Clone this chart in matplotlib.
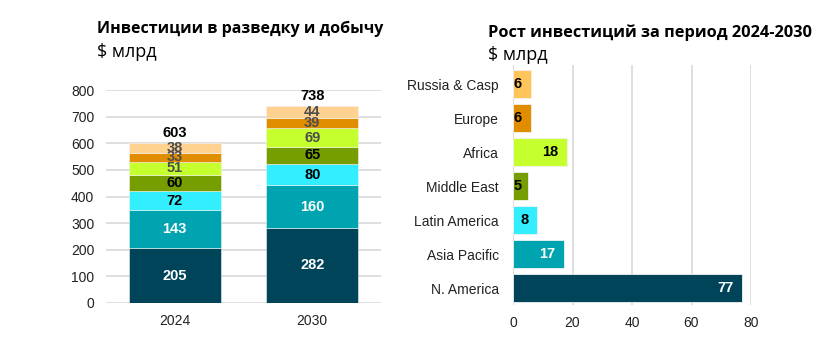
import matplotlib
matplotlib.use("Agg")
import matplotlib.pyplot as plt
import numpy as np

plt.rcParams['font.family'] = ['Liberation Sans', 'DejaVu Sans']

years = ['2024', '2030']
regions = ['N. America', 'Asia Pacific', 'Latin America', 'Middle East', 'Africa', 'Europe', 'Russia & Casp']
vals_2024 = [205, 143, 72, 60, 51, 33, 38]
vals_2030 = [282, 160, 80, 65, 69, 39, 44]
totals = [603, 738]
growth = [77, 17, 8, 5, 18, 6, 6]

colors_left = ['#00445A', '#00A3B0', '#33EEFF', '#779E00', '#C6FF2E', '#E08E00', '#FFD28F']
colors_right = ['#00445A', '#00A3B0', '#33EEFF', '#779E00', '#C6FF2E', '#E08E00', '#FFC55A']
label_colors_left = ['white', 'white', 'black', 'black', '#4D4D4D', '#4D4D4D', '#4D4D4D']
label_colors_right = ['white', 'white', 'black', 'black', 'black', 'black', 'black']

fig = plt.figure(figsize=(8.34, 3.46), dpi=100)

# Left stacked chart
ax1 = fig.add_axes([106/834, 1-303/346, 275/834, 213/346])
x = np.arange(len(years))
bottoms = np.zeros(len(years))
data = np.array([vals_2024, vals_2030]).T
for i, reg in enumerate(regions):
    ax1.bar(x, data[i], 0.67, bottom=bottoms, color=colors_left[i],
            edgecolor='#F2F2F2', linewidth=0.4, zorder=3)
    for j in range(len(years)):
        ax1.text(x[j], bottoms[j] + data[i][j]/2, str(data[i][j]), ha='center', va='center',
                 fontsize=10.5, fontweight='bold', color=label_colors_left[i], zorder=4)
    bottoms += data[i]
for j in range(len(years)):
    ax1.text(x[j], bottoms[j] + 12, str(totals[j]), ha='center', va='bottom',
             fontsize=10.5, fontweight='bold', color='black', clip_on=False)
ax1.set_ylim(0, 800)
ax1.set_xlim(-0.5, 1.5)
ax1.set_yticks(range(0, 801, 100))
ax1.set_xticks(x)
ax1.set_xticklabels(years)
ax1.tick_params(length=0, labelsize=10, colors='#222222')
ax1.tick_params(axis='y', pad=8.5)
ax1.tick_params(axis='x', pad=8)
ax1.grid(axis='y', color='#D9D9D9', linewidth=1.2, zorder=0)
for s in ax1.spines.values():
    s.set_visible(False)

fig.text(97/834, 1-33/346, 'Инвестиции в разведку и добычу', fontsize=11.5, fontweight='bold',
         family=['Open Sans', 'DejaVu Sans'], va='baseline')
fig.text(97/834, 1-57/346, '$ млрд', fontsize=13, family=['Open Sans', 'DejaVu Sans'], va='baseline')

# Right horizontal chart
ax2 = fig.add_axes([513/834, 1-305/346, 238/834, 240/346])
y = np.arange(len(regions))
ax2.barh(y, growth, 0.83, color=colors_right, edgecolor='#F2F2F2', linewidth=0.6, zorder=3)
for i, v in enumerate(growth):
    if v < 7:
        ax2.text(0.3, y[i], str(v), ha='left', va='center', fontsize=10.5, fontweight='bold',
                 color=label_colors_right[i], zorder=4)
    else:
        ax2.text(v - 2.8, y[i], str(v), ha='right', va='center', fontsize=10.5, fontweight='bold',
                 color=label_colors_right[i], zorder=4)
ax2.set_xlim(0, 80)
ax2.set_ylim(-0.5, 6.56)
ax2.set_xticks(range(0, 81, 20))
ax2.set_yticks(y)
ax2.set_yticklabels(regions)
ax2.tick_params(length=0, labelsize=10, colors='#222222')
ax2.tick_params(axis='y', pad=10)
ax2.tick_params(axis='x', pad=8)
ax2.grid(axis='x', color='#D9D9D9', linewidth=1.2, zorder=0)
for s in ax2.spines.values():
    s.set_visible(False)
ax2.axvline(0, color='#D9D9D9', linewidth=1.2, zorder=1)

fig.text(488/834, 1-37/346, 'Рост инвестиций за период 2024-2030', fontsize=11.8, fontweight='bold',
         family=['Open Sans', 'DejaVu Sans'], va='baseline')
fig.text(488/834, 1-60/346, '$ млрд', fontsize=13, family=['Open Sans', 'DejaVu Sans'], va='baseline')

fig.savefig('out.png', dpi=100)
